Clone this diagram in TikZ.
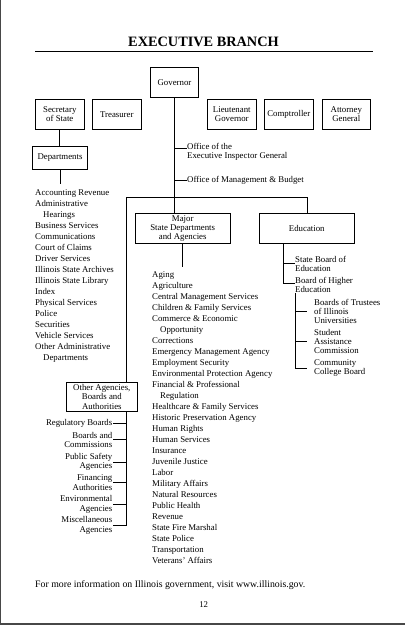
\documentclass[tikz,border=0pt]{standalone}
\usepackage{fontspec}
\setmainfont{Liberation Serif}
\begin{document}
\begin{tikzpicture}[x=1pt,y=-1pt,
  every node/.style={font=\fontsize{8.8}{9.3}\selectfont, inner sep=0pt},
  ebox/.style={draw, line width=0.9pt, align=center, minimum width=49pt, minimum height=30pt,
    font=\fontsize{8.8}{9.6}\selectfont},
  conn/.style={line width=0.9pt},
  ml/.style={anchor=west, align=left},
  subitem/.style={anchor=west, align=left, inner xsep=7pt},
  oaitem/.style={anchor=east, align=right, inner xsep=0.5pt},
  listitem/.style={anchor=base west}]
\useasboundingbox (0,0) rectangle (405,625);
% page edges
\fill[black!72] (0,0) rectangle (1.4,625);
\fill[black!72] (0,622.6) rectangle (405,625);
% title
\node[font=\bfseries\fontsize{14.3}{16}\selectfont] (title) at (203.5,42) {EXECUTIVE BRANCH};
\draw[line width=0.9pt] (35,51.5) -- (373,51.5);
% top boxes
\node[ebox, minimum width=48.4pt] (gov) at (174.5,82.3) {Governor};
\node[ebox] (sos) at (59.8,114.3) {Secretary\\of State};
\node[ebox] (tre) at (116.8,114.3) {Treasurer};
\node[ebox] (ltg) at (231.8,114.3) {Lieutenant\\Governor};
\node[ebox] (cmp) at (288.8,114.3) {Comptroller};
\node[ebox, minimum width=48pt] (atg) at (346.3,114.3) {Attorney\\General};
\node[ebox, minimum width=55.4pt, minimum height=23.3pt] (dep) at (60,157.7) {Departments};
\node[ebox, minimum width=95.3pt, font=\fontsize{8.8}{9.2}\selectfont] (maj) at (182.7,228.3) {Major\\State Departments\\and Agencies};
\node[ebox, minimum width=95pt] (edu) at (306.8,228.3) {Education};
\node[ebox, minimum width=71.7pt, minimum height=29pt, font=\fontsize{8.8}{9.2}\selectfont] (oth) at (101.8,396.8) {Other Agencies,\\Boards and\\Authorities};
% governor line and offices
\draw[conn] (gov.south) -- (gov.south |- maj.north);
\node[ml] (oig) at (187,151.6) {Office of the\\Executive Inspector General};
\coordinate (oigS) at (187,148.3);
\draw[conn] (gov.south |- oigS) -- (oigS);
\node[ml] (omb) at (187,180.3) {Office of Management \& Budget};
\draw[conn] (gov.south |- omb.west) -- (omb.west);
% secretary of state
\draw[conn] (sos.south) -- (sos.south |- dep.north);
\coordinate (depE) at (60,184.3);
\draw[conn] (dep.south) -- (dep.south |- depE);
\foreach \t [count=\i from 0] in {Accounting Revenue, Administrative, \hspace*{8pt}Hearings,
  Business Services, Communications, Court of Claims, Driver Services, Illinois State Archives,
  Illinois State Library, Index, Physical Services, Police, Securities, Vehicle Services,
  Other Administrative, \hspace*{8pt}Departments}
  \node[listitem] (dl\i) at (35,{195.3+11*\i}) {\t};
% bar
\coordinate (barL) at (126,197.3);
\coordinate (barR) at (307.7,197.3);
\draw[conn] (barL) -- (barR);
\draw[conn] (barR) -- (barR |- edu.north);
\draw[conn] (barL) -- (barL |- oth.north);
% major list
\coordinate (majE) at (182.7,266.7);
\draw[conn] (maj.south) -- (maj.south |- majE);
\foreach \t [count=\i from 0] in {Aging, Agriculture, Central Management Services,
  Children \& Family Services, Commerce \& Economic, \hspace*{8pt}Opportunity, Corrections,
  Emergency Management Agency, Employment Security, Environmental Protection Agency,
  Financial \& Professional, \hspace*{8pt}Regulation, Healthcare \& Family Services,
  Historic Preservation Agency, Human Rights, Human Services, Insurance, Juvenile Justice,
  Labor, Military Affairs, Natural Resources, Public Health, Revenue, State Fire Marshal,
  State Police, Transportation, Veterans' Affairs}
  \node[listitem] (ml\i) at (152,{277.3+11*\i}) {\t};
% education
\node[ml] (sbe) at (295,263.6) {State Board of\\Education};
\node[ml] (bhe) at (295,285) {Board of Higher\\Education};
\coordinate (ev) at (283.3,283.3);
\draw[conn] (edu.south -| ev) -- (ev) -- (ev -| bhe.west);
\draw[conn] (ev |- sbe.west) -- (sbe.west);
\node[subitem] (bot) at (307,311.3) {Boards of Trustees\\of Illinois\\Universities};
\node[subitem] (sac) at (307,341.6) {Student\\Assistance\\Commission};
\node[subitem] (ccb) at (307,368) {Community\\College Board};
\draw[conn] (bhe.south west) -- (bhe.south west |- ccb.west) -- (ccb.west);
\draw[conn] (bhe.south west |- bot.west) -- (bot.west);
\draw[conn] (bhe.south west |- sac.west) -- (sac.west);
% other agencies
\node[oaitem] (oa1) at (113,423.3) {Regulatory Boards};
\node[oaitem] (oa2) at (113,439.8) {Boards and\\Commissions};
\node[oaitem] (oa3) at (113,462) {Public Safety\\Agencies};
\node[oaitem] (oa4) at (113,482.5) {Financing\\Authorities};
\node[oaitem] (oa5) at (113,504.3) {Environmental\\Agencies};
\node[oaitem] (oa6) at (113,525.5) {Miscellaneous\\Agencies};
\draw[conn] (barL |- oth.south) -- (barL |- oa6.east);
\foreach \n in {oa1,oa2,oa3,oa4,oa5,oa6}
  \draw[conn] (\n.east) -- (\n.east -| barL);
% footer
\node[anchor=base west, font=\fontsize{9.8}{11}\selectfont] (foot) at (35,587) {For more information on Illinois government, visit www.illinois.gov.};
\node (pg) at (203.7,605) {12};
\end{tikzpicture}
\end{document}
